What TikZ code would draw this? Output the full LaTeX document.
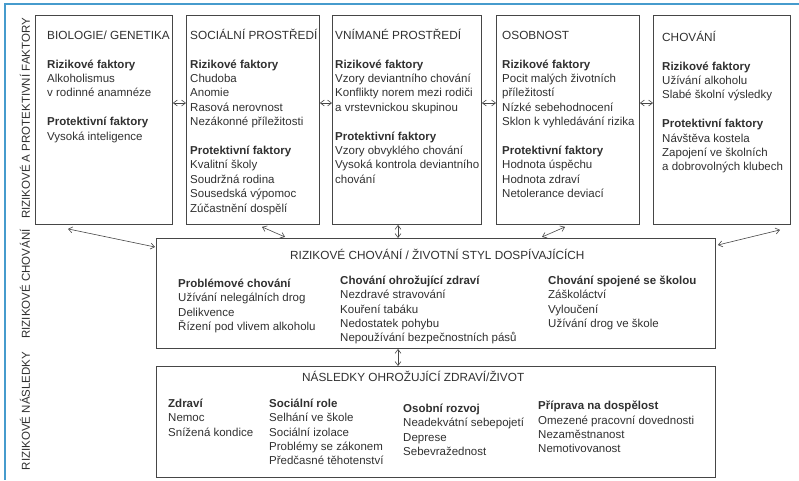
\documentclass[tikz,border=0pt]{standalone}
\usepackage{fontspec}
\setmainfont{Liberation Sans}
\usetikzlibrary{arrows.meta,calc}
\newcommand{\firstline}{\rule{0pt}{12pt}}
\newcommand{\boxhead}[1]{{\fontsize{11.8pt}{14.4pt}\selectfont #1}}

\begin{document}
\begin{tikzpicture}[x=1pt,y=-1pt,
  every node/.style={font=\fontsize{11.5pt}{14.4pt}\selectfont, text=ink},
  box/.style={draw=edge, line width=0.9pt, inner sep=0pt, anchor=north west},
  txt/.style={align=left, inner sep=0pt, anchor=north west},
  side/.style={rotate=90, inner sep=0pt},
  link/.style={<->, >={Straight Barb[length=4pt,width=6pt]}, line width=0.6pt, draw=edge}]

\definecolor{ink}{RGB}{48,48,48}
\definecolor{edge}{RGB}{70,70,70}
\definecolor{frame}{RGB}{70,155,205}

\useasboundingbox (0,0) rectangle (799,480);
\draw[frame, line width=2pt] (799,4) -- (5,4) -- (5,480);

% ===================== SIDE LABELS =====================
\node[side] (lblfak) at (25,118.5) {RIZIKOVÉ A PROTEKTIVNÍ FAKTORY};
\node[side] (lblcho) at (25,284) {RIZIKOVÉ CHOVÁNÍ};
\node[side] (lblnas) at (25,411) {RIZIKOVÉ NÁSLEDKY};

% ===================== FACTOR BOXES =====================
\node[box, minimum width=137pt, minimum height=209pt] (bio) at (35,15) {};
\node[txt] (biotxt) at (47,27) {\firstline\boxhead{BIOLOGIE/ GENETIKA}\\[14.4pt]
  \textbf{Rizikové faktory}\\ Alkoholismus\\ v rodinné anamnéze\\[14.4pt]
  \textbf{Protektivní faktory}\\ Vysoká inteligence};

\node[box, minimum width=133pt, minimum height=209pt] (soc) at (186,15) {};
\node[txt] (soctxt) at (190,27) {\firstline\boxhead{SOCIÁLNÍ PROSTŘEDÍ}\\[14.4pt]
  \textbf{Rizikové faktory}\\ Chudoba\\ Anomie\\ Rasová nerovnost\\ Nezákonné příležitosti\\[14.4pt]
  \textbf{Protektivní faktory}\\ Kvalitní školy\\ Soudržná rodina\\ Sousedská výpomoc\\ Zúčastnění dospělí};

\node[box, minimum width=149pt, minimum height=209pt] (vnim) at (332,15) {};
\node[txt] (vnimtxt) at (335,27) {\firstline\boxhead{VNÍMANÉ PROSTŘEDÍ}\\[14.4pt]
  \textbf{Rizikové faktory}\\ Vzory deviantního chování\\ Konflikty norem mezi rodiči\\ a vrstevnickou skupinou\\[14.4pt]
  \textbf{Protektivní faktory}\\ Vzory obvyklého chování\\ Vysoká kontrola deviantního\\ chování};

\node[box, minimum width=143pt, minimum height=209pt] (osob) at (496,15) {};
\node[txt] (osobtxt) at (502,27) {\firstline\boxhead{OSOBNOST}\\[14.4pt]
  \textbf{Rizikové faktory}\\ Pocit malých životních\\ příležitostí\\ Nízké sebehodnocení\\ Sklon k vyhledávání rizika\\[14.4pt]
  \textbf{Protektivní faktory}\\ Hodnota úspěchu\\ Hodnota zdraví\\ Netolerance deviací};

\node[box, minimum width=137pt, minimum height=209pt] (chov) at (653,15) {};
\node[txt] (chovtxt) at (662,29) {\firstline\boxhead{CHOVÁNÍ}\\[14.4pt]
  \textbf{Rizikové faktory}\\ Užívání alkoholu\\ Slabé školní výsledky\\[14.4pt]
  \textbf{Protektivní faktory}\\ Návštěva kostela\\ Zapojení ve školních\\ a dobrovolných klubech};

% ===================== RISK BEHAVIOUR =====================
\node[box, minimum width=559pt, minimum height=110pt] (risk) at (156,238) {};
\node[txt] (risktitle) at (290,247) {\firstline\boxhead{RIZIKOVÉ CHOVÁNÍ / ŽIVOTNÍ STYL DOSPÍVAJÍCÍCH}};
\node[txt] (riskprob) at (178,275) {\firstline\textbf{Problémové chování}\\ Užívání nelegálních drog\\ Delikvence\\ Řízení pod vlivem alkoholu};
\node[txt] (riskzdr) at (340,272) {\firstline\textbf{Chování ohrožující zdraví}\\ Nezdravé stravování\\ Kouření tabáku\\ Nedostatek pohybu\\ Nepoužívání bezpečnostních pásů};
\node[txt] (riskskol) at (548,272) {\firstline\textbf{Chování spojené se školou}\\ Záškoláctví\\ Vyloučení\\ Užívání drog ve škole};

% ===================== CONSEQUENCES =====================
\node[box, minimum width=559pt, minimum height=111pt] (cons) at (156,366) {};
\node[txt] (constitle) at (302,369) {\firstline\boxhead{NÁSLEDKY OHROŽUJÍCÍ ZDRAVÍ/ŽIVOT}};
\node[txt] (conszdr) at (168,395) {\firstline\textbf{Zdraví}\\ Nemoc\\ Snížená kondice};
\node[txt] (consrole) at (269,395) {\firstline\textbf{Sociální role}\\ Selhání ve škole\\ Sociální izolace\\ Problémy se zákonem\\ Předčasné těhotenství};
\node[txt] (consros) at (403,400) {\firstline\textbf{Osobní rozvoj}\\ Neadekvátní sebepojetí\\ Deprese\\ Sebevražednost};
\node[txt] (consdosp) at (538,397.5) {\firstline\textbf{Příprava na dospělost}\\ Omezené pracovní dovednosti\\ Nezaměstnanost\\ Nemotivovanost};

% ===================== CONNECTORS =====================
\foreach \a/\b in {bio/soc, soc/vnim, vnim/osob, osob/chov}
  \draw[link] ([yshift=-88pt]\a.north east) -- ([yshift=-88pt]\b.north west);

\draw[link] ([xshift=33pt,yshift=-4pt]bio.south west) -- ([xshift=-1pt,yshift=-9pt]risk.north west);
\draw[link] ([xshift=76pt,yshift=-2pt]soc.south west) -- ([xshift=129pt,yshift=1pt]risk.north west);
\coordinate (vdrop) at ([xshift=66pt]vnim.south west);
\draw[link] (vdrop) -- (vdrop |- risk.north);
\draw[link] ([xshift=69pt,yshift=-2pt]osob.south west) -- ([xshift=386pt,yshift=1pt]risk.north west);
\draw[link] ([xshift=127pt,yshift=-5pt]chov.south west) -- ([xshift=2pt,yshift=-7pt]risk.north east);
\coordinate (rdrop) at ([xshift=242pt]risk.south west);
\draw[link] (rdrop) -- (rdrop |- cons.north);

\end{tikzpicture}
\end{document}
